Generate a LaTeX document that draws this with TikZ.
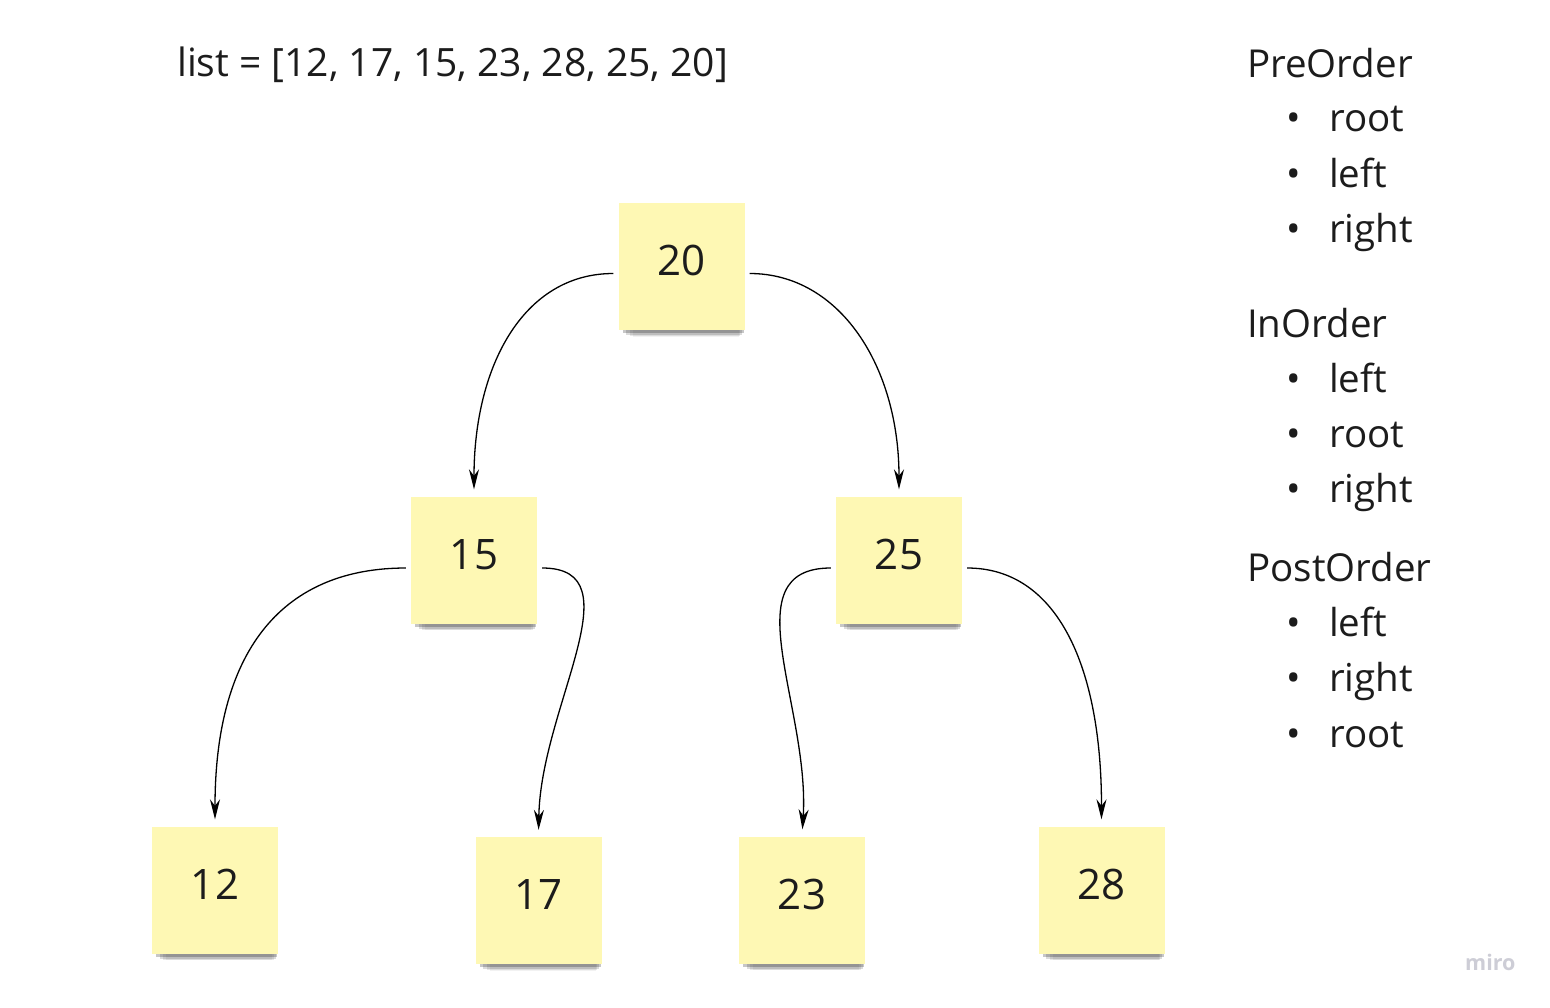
\documentclass[tikz,border=0pt]{standalone}
\usepackage{fontspec}
\setmainfont{Open Sans}
\usetikzlibrary{arrows.meta,shadows}
\definecolor{notey}{HTML}{FEF8B4}
\definecolor{inkc}{HTML}{1C1C1C}
\definecolor{mirog}{HTML}{CDCDD6}
\newcommand\itm[1]{\makebox[43pt][l]{\textbullet}#1}

\begin{document}
\begin{tikzpicture}[x=1pt, y=-1pt, font=\fontsize{38.5}{46}\selectfont, text=inkc]
\tikzstyle{note} = [fill=notey, minimum width=126pt, minimum height=127pt, inner sep=0pt, text depth=12pt, font=\fontsize{42}{50}\selectfont,
  general shadow={fill=black, opacity=.22, shadow scale=.96, shadow xshift=2pt, shadow yshift=-6pt},
  general shadow={fill=black, opacity=.14, shadow scale=.92, shadow xshift=3pt, shadow yshift=-11pt},
  general shadow={fill=black, opacity=.09, shadow scale=.88, shadow xshift=4pt, shadow yshift=-16pt},
  general shadow={fill=black, opacity=.05, shadow scale=.84, shadow xshift=5pt, shadow yshift=-20pt}]
\tikzstyle{link} = [-{Stealth[length=20pt,width=10pt]}, line width=1.3pt, shorten >=7pt]
\tikzstyle{txt} = [anchor=base west, inner sep=0pt]
\useasboundingbox (0,0) rectangle (1550,1007);

\node[note] (n20) at (681.5,266.5) {20};
\node[note] (n15) at (474,560) {15};
\node[note] (n25) at (899,560) {25};
\node[note] (n12) at (215,890) {12};
\node[note] (n17) at (538.5,900.5) {17};
\node[note] (n23) at (802,900) {23};
\node[note] (n28) at (1101.5,890) {28};

\draw[link] ([xshift=-5pt,yshift=-7pt]n20.west) .. controls +(-90,0) and +(0,-130) .. (n15.north);
\draw[link] ([xshift=5pt,yshift=-7pt]n20.east) .. controls +(90,0) and +(0,-130) .. (n25.north);
\draw[link] ([xshift=-5pt,yshift=-8pt]n15.west) .. controls +(-120,0) and +(0,-180) .. (n12.north);
\draw[link] ([xshift=5pt,yshift=-8pt]n15.east) .. controls +(95,0) and +(2,-130) .. (n17.north);
\draw[link] ([xshift=-5pt,yshift=-8pt]n25.west) .. controls +(-100,0) and +(8,-130) .. (n23.north);
\draw[link] ([xshift=5pt,yshift=-8pt]n25.east) .. controls +(90,0) and +(0,-160) .. (n28.north);

\node[txt, font=\fontsize{39}{46}\selectfont] (lst) at (177,76) {list = [12, 17, 15, 23, 28, 25, 20]};

\node[txt] (pre) at (1247,77) {PreOrder};
\node[txt] (pre1) at (1286,131) {\itm{root}};
\node[txt] (pre2) at (1286,187) {\itm{left}};
\node[txt] (pre3) at (1286,242) {\itm{right}};

\node[txt] (ino) at (1247,337) {InOrder};
\node[txt] (ino1) at (1286,392) {\itm{left}};
\node[txt] (ino2) at (1286,447) {\itm{root}};
\node[txt] (ino3) at (1286,502) {\itm{right}};

\node[txt] (post) at (1247,581) {PostOrder};
\node[txt] (post1) at (1286,636) {\itm{left}};
\node[txt] (post2) at (1286,691) {\itm{right}};
\node[txt] (post3) at (1286,747) {\itm{root}};

\node[txt, text=mirog, font=\fontsize{21.5}{24}\selectfont\bfseries] (miro) at (1465,970) {miro};
\end{tikzpicture}
\end{document}
